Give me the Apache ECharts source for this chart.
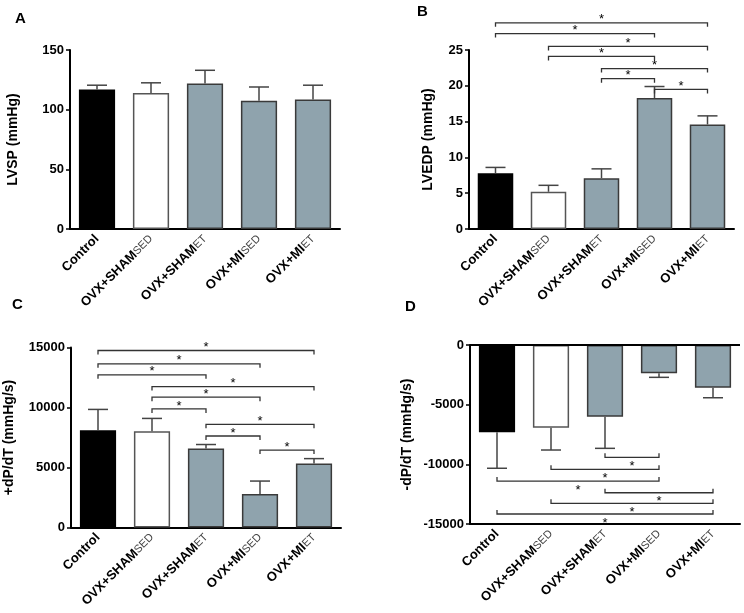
<!DOCTYPE html>
<html>
<head>
<meta charset="utf-8">
<script src="https://cdn.jsdelivr.net/npm/echarts@6/dist/echarts.min.js"></script>
<style>
  html, body { margin: 0; padding: 0; background: #fff; }
  #chart { width: 744px; height: 613px; }
</style>
</head>
<body>
<div id="chart"></div>
<script>
// groups, "_" splits the subscript part
const categories = ['Control', 'OVX+SHAM_SED', 'OVX+SHAM_ET', 'OVX+MI_SED', 'OVX+MI_ET'];

// A: LVSP (mmHg)
const lvspMean = [117, 114, 122, 107.5, 108.5];
const lvspSem = [3.5, 8.5, 11, 11.5, 12];

// B: LVEDP (mmHg)
const lvedpMean = [7.8, 5.2, 7.1, 18.3, 14.6];
const lvedpSem = [0.8, 0.9, 1.3, 1.6, 1.2];
// [from group, to group, level]
const lvedpSig = [[0, 4, 28.8], [0, 3, 27.3], [1, 4, 25.5], [1, 3, 24.1], [2, 4, 22.4], [2, 3, 21.0], [3, 4, 19.5]];

// C: +dP/dT (mmHg/s)
const dpPosMean = [8100, 8030, 6580, 2790, 5330];
const dpPosSem = [1740, 1060, 335, 1080, 410];
const dpPosSig = [[0, 4, 14750], [0, 3, 13640], [0, 2, 12720], [1, 4, 11740], [1, 3, 10860], [1, 2, 9880], [2, 4, 8600], [2, 3, 7625], [3, 4, 6455]];

// D: -dP/dT (mmHg/s)
const dpNegMean = [-7320, -6930, -6010, -2370, -3580];
const dpNegSem = [3010, 1870, 2650, 340, 840];
const dpNegSig = [[2, 3, -9410], [1, 3, -10420], [0, 3, -11400], [2, 4, -12380], [1, 4, -13270], [0, 4, -14160]];

const FONT = '"Liberation Sans", Arial, sans-serif';
const fills = ['#000000', '#ffffff', '#8fa3ad', '#8fa3ad', '#8fa3ad'];
const borders = ['#000000', '#555555', '#3a3a3a', '#3a3a3a', '#3a3a3a'];

const chart = echarts.init(document.getElementById('chart'));

const grids = [
  { left: 70, top: 50, width: 270, height: 179 },
  { left: 469, top: 50, width: 265, height: 179 },
  { left: 71, top: 347.5, width: 270, height: 180 },
  { left: 470, top: 345, width: 270, height: 179 }
];

const panels = [
  { name: 'LVSP (mmHg)', min: 0, max: 150, interval: 50, gap: 50, mean: lvspMean, sem: lvspSem, sig: [] },
  { name: 'LVEDP (mmHg)', min: 0, max: 25, interval: 5, gap: 34, mean: lvedpMean, sem: lvedpSem, sig: lvedpSig },
  { name: '+dP/dT (mmHg/s)', min: 0, max: 15000, interval: 5000, gap: 55, mean: dpPosMean, sem: dpPosSem, sig: dpPosSig },
  { name: '-dP/dT (mmHg/s)', min: -15000, max: 0, interval: 5000, gap: 56, mean: dpNegMean, sem: dpNegSem, sig: dpNegSig }
];

const xAxes = panels.map((p, i) => ({
  type: 'category',
  gridIndex: i,
  data: categories,
  axisLine: { onZero: false, lineStyle: { color: '#000', width: 2 } },
  axisTick: { alignWithLabel: true, length: 5, lineStyle: { color: '#000', width: 1.5 } },
  axisLabel: {
    interval: 0,
    rotate: 45,
    margin: 8,
    formatter: (v) => {
      const parts = v.split('_');
      return parts.length > 1 ? '{b|' + parts[0] + '}{s|' + parts[1] + '}' : '{b|' + v + '}';
    },
    rich: {
      b: { fontFamily: FONT, fontWeight: 'bold', fontSize: 13, color: '#000' },
      s: { fontFamily: FONT, fontWeight: 'normal', fontSize: 11, color: '#444' }
    }
  }
}));

const yAxes = panels.map((p, i) => ({
  type: 'value',
  gridIndex: i,
  min: p.min,
  max: p.max,
  interval: p.interval,
  name: p.name,
  nameLocation: 'middle',
  nameGap: p.gap,
  nameTextStyle: { fontFamily: FONT, fontWeight: 'bold', fontSize: 14, color: '#000' },
  axisLine: { show: true, lineStyle: { color: '#000', width: 2 } },
  axisTick: { show: true, length: 4, lineStyle: { color: '#000', width: 1.5 } },
  axisLabel: {
    fontFamily: FONT, fontWeight: 'bold', fontSize: 13, color: '#000', margin: 6,
    formatter: (v) => String(v)
  },
  splitLine: { show: false }
}));

function errorRender(params, api) {
  const i = api.value(0), m = api.value(1), s = api.value(2);
  const end = m + (m < 0 ? -s : s);
  const a = api.coord([i, m]);
  const b = api.coord([i, end]);
  return {
    type: 'group',
    children: [
      { type: 'line', shape: { x1: a[0], y1: a[1], x2: b[0], y2: b[1] }, style: { stroke: '#444', lineWidth: 1.5 } },
      { type: 'line', shape: { x1: b[0] - 10, y1: b[1], x2: b[0] + 10, y2: b[1] }, style: { stroke: '#444', lineWidth: 1.5 } }
    ]
  };
}

function bracketRender(down) {
  return function (params, api) {
    const a = api.coord([api.value(0), api.value(2)]);
    const b = api.coord([api.value(1), api.value(2)]);
    const t = down ? 4 : -4;
    return {
      type: 'group',
      children: [
        {
          type: 'polyline',
          shape: { points: [[a[0], a[1] + t], [a[0], a[1]], [b[0], b[1]], [b[0], b[1] + t]] },
          style: { stroke: '#333', lineWidth: 1.3, fill: null }
        },
        {
          type: 'text',
          x: (a[0] + b[0]) / 2,
          y: down ? a[1] - 3 : a[1] + 9,
          style: { text: '*', fill: '#000', fontSize: 13, fontFamily: FONT, align: 'center', verticalAlign: 'middle' }
        }
      ]
    };
  };
}

const series = [];
panels.forEach((p, i) => {
  const bar = {
    type: 'bar',
    xAxisIndex: i,
    yAxisIndex: i,
    barWidth: '67%',
    silent: true,
    data: p.mean.map((v, k) => ({
      value: v,
      itemStyle: { color: fills[k], borderColor: borders[k], borderWidth: 1.5 }
    }))
  };
  if (p.max === 0) {
    bar.markLine = {
      silent: true,
      symbol: 'none',
      label: { show: false },
      lineStyle: { color: '#000', width: 2, type: 'solid' },
      data: [{ yAxis: 0 }]
    };
  }
  series.push(bar);
  series.push({
    type: 'custom',
    xAxisIndex: i,
    yAxisIndex: i,
    clip: false,
    silent: true,
    z: 3,
    encode: { x: 0, y: 1 },
    renderItem: errorRender,
    data: p.mean.map((v, k) => [k, v, p.sem[k]])
  });
  if (p.sig.length) {
    series.push({
      type: 'custom',
      xAxisIndex: i,
      yAxisIndex: i,
      clip: false,
      silent: true,
      z: 4,
      encode: { x: 0, y: 2 },
      renderItem: bracketRender(p.max > 0),
      data: p.sig
    });
  }
});

const letters = [['A', 15, 11], ['B', 417, 4], ['C', 12, 297], ['D', 405, 299]];

chart.setOption({
  animation: false,
  backgroundColor: '#fff',
  grid: grids,
  xAxis: xAxes,
  yAxis: yAxes,
  series: series,
  graphic: letters.map(([t, x, y]) => ({
    type: 'text',
    left: x,
    top: y,
    style: { text: t, fontFamily: FONT, fontWeight: 'bold', fontSize: 15, fill: '#000' }
  }))
});

window.addEventListener('resize', () => chart.resize());
</script>
</body>
</html>
